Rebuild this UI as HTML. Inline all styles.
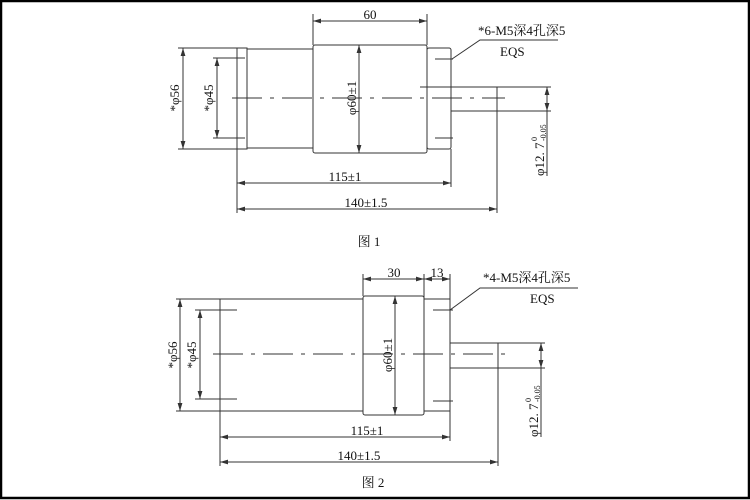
<!DOCTYPE html>
<html><head><meta charset="utf-8"><style>
html,body{margin:0;padding:0;background:#fff}
svg{display:block}
text{font-family:"Liberation Serif","Noto Serif CJK SC",serif;fill:#111}
</style></head><body>
<svg width="750" height="500" viewBox="0 0 750 500" xmlns="http://www.w3.org/2000/svg">
<defs>
<marker id="a" viewBox="0 0 10 6" refX="10" refY="3" markerWidth="8" markerHeight="5" orient="auto-start-reverse" markerUnits="userSpaceOnUse"><path d="M0,0 L10,3 L0,6z" fill="#333"/></marker>
</defs>
<rect x="1" y="1" width="748" height="497" fill="none" stroke="#000" stroke-width="2.5"/>
<g stroke="#333" stroke-width="1" fill="none">
<rect x="237" y="48" width="10" height="101"/>
<line x1="247" y1="49" x2="313" y2="49"/><line x1="247" y1="148" x2="313" y2="148"/>
<rect x="313" y="45" width="114" height="108" rx="2"/>
<rect x="427" y="48" width="24" height="101" rx="2"/>
<rect x="451" y="87" width="46" height="24"/>
<line x1="420" y1="87" x2="451" y2="87"/>
<line x1="232" y1="98" x2="505" y2="98" stroke-dasharray="30,8,4,8"/>
<line x1="435" y1="59" x2="453" y2="59"/><line x1="435" y1="138" x2="453" y2="138"/>
<line x1="178" y1="48" x2="237" y2="48"/><line x1="178" y1="149" x2="237" y2="149"/>
<line x1="183" y1="48" x2="183" y2="149" marker-start="url(#a)" marker-end="url(#a)"/>
<line x1="213" y1="58" x2="245" y2="58"/><line x1="213" y1="138" x2="245" y2="138"/>
<line x1="217" y1="58" x2="217" y2="138" marker-start="url(#a)" marker-end="url(#a)"/>
<line x1="359" y1="45" x2="359" y2="153" marker-start="url(#a)" marker-end="url(#a)"/>
<line x1="313" y1="14" x2="313" y2="45"/><line x1="427" y1="14" x2="427" y2="45"/>
<line x1="313" y1="21" x2="427" y2="21" marker-start="url(#a)" marker-end="url(#a)"/>
<line x1="237" y1="149" x2="237" y2="213"/><line x1="451" y1="149" x2="451" y2="187"/><line x1="497" y1="111" x2="497" y2="213"/>
<line x1="237" y1="183" x2="451" y2="183" marker-start="url(#a)" marker-end="url(#a)"/>
<line x1="237" y1="209" x2="497" y2="209" marker-start="url(#a)" marker-end="url(#a)"/>
<line x1="497" y1="87" x2="551" y2="87"/><line x1="497" y1="111" x2="551" y2="111"/>
<line x1="547" y1="87" x2="547" y2="111" marker-start="url(#a)" marker-end="url(#a)"/>
<line x1="547" y1="111" x2="547" y2="176"/>
<polyline points="452,59 480,40 558,40"/>
<line x1="220" y1="299" x2="220" y2="411"/>
<line x1="220" y1="299" x2="363" y2="299"/><line x1="220" y1="411" x2="363" y2="411"/>
<rect x="363" y="296" width="61" height="119" rx="2"/>
<rect x="424" y="299" width="26" height="112"/>
<rect x="450" y="343" width="48" height="25"/>
<line x1="213" y1="354" x2="507" y2="354" stroke-dasharray="30,8,4,8"/>
<line x1="433" y1="310" x2="453" y2="310"/><line x1="433" y1="401" x2="453" y2="401"/>
<line x1="176" y1="299" x2="220" y2="299"/><line x1="176" y1="411" x2="220" y2="411"/>
<line x1="180" y1="299" x2="180" y2="411" marker-start="url(#a)" marker-end="url(#a)"/>
<line x1="195" y1="310" x2="237" y2="310"/><line x1="195" y1="399" x2="237" y2="399"/>
<line x1="200" y1="310" x2="200" y2="399" marker-start="url(#a)" marker-end="url(#a)"/>
<line x1="395" y1="296" x2="395" y2="415" marker-start="url(#a)" marker-end="url(#a)"/>
<line x1="363" y1="274" x2="363" y2="296"/><line x1="424" y1="274" x2="424" y2="299"/><line x1="450" y1="274" x2="450" y2="299"/>
<line x1="363" y1="279" x2="424" y2="279" marker-start="url(#a)" marker-end="url(#a)"/>
<line x1="424" y1="279" x2="450" y2="279" marker-start="url(#a)" marker-end="url(#a)"/>
<line x1="220" y1="411" x2="220" y2="466"/><line x1="450" y1="411" x2="450" y2="441"/><line x1="498" y1="368" x2="498" y2="466"/>
<line x1="220" y1="437" x2="450" y2="437" marker-start="url(#a)" marker-end="url(#a)"/>
<line x1="220" y1="462" x2="498" y2="462" marker-start="url(#a)" marker-end="url(#a)"/>
<line x1="498" y1="343" x2="545" y2="343"/><line x1="498" y1="368" x2="545" y2="368"/>
<line x1="541" y1="343" x2="541" y2="368" marker-start="url(#a)" marker-end="url(#a)"/>
<line x1="541" y1="368" x2="541" y2="437"/>
<polyline points="450,310 480,288 578,288"/>
</g>
<g font-size="13">
<text x="370" y="19" text-anchor="middle">60</text>
<text x="478" y="35">*6-M5深4孔深5</text>
<text x="500" y="56">EQS</text>
<text x="345" y="181" text-anchor="middle">115±1</text>
<text x="366" y="207" text-anchor="middle">140±1.5</text>
<text x="369" y="246" text-anchor="middle">图 1</text>
<text transform="translate(179,98) rotate(-90)" text-anchor="middle">*φ56</text>
<text transform="translate(213,98) rotate(-90)" text-anchor="middle">*φ45</text>
<text transform="translate(356,98) rotate(-90)" text-anchor="middle">φ60±1</text>
<text transform="translate(544,176) rotate(-90)">φ12. 7</text>
<text transform="translate(537,141) rotate(-90)" font-size="8">0</text>
<text transform="translate(546,141) rotate(-90)" font-size="8">-0.05</text>
<text x="394" y="277" text-anchor="middle">30</text>
<text x="437" y="277" text-anchor="middle">13</text>
<text x="483" y="282">*4-M5深4孔深5</text>
<text x="530" y="303">EQS</text>
<text x="367" y="435" text-anchor="middle">115±1</text>
<text x="359" y="460" text-anchor="middle">140±1.5</text>
<text x="373" y="487" text-anchor="middle">图 2</text>
<text transform="translate(177,355) rotate(-90)" text-anchor="middle">*φ56</text>
<text transform="translate(196,355) rotate(-90)" text-anchor="middle">*φ45</text>
<text transform="translate(392,355) rotate(-90)" text-anchor="middle">φ60±1</text>
<text transform="translate(538,437) rotate(-90)">φ12. 7</text>
<text transform="translate(531,402) rotate(-90)" font-size="8">0</text>
<text transform="translate(540,402) rotate(-90)" font-size="8">-0.05</text>
</g>
</svg>
</body></html>
